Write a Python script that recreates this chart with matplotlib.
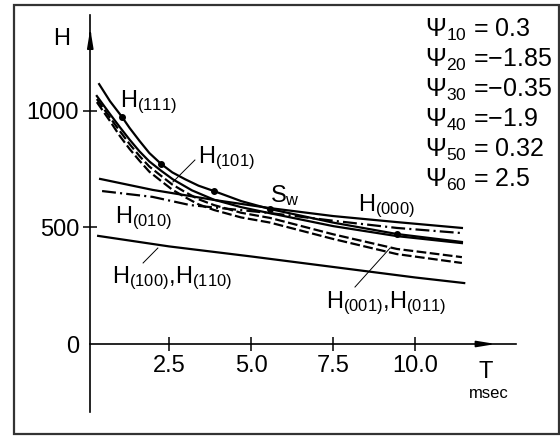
import matplotlib
matplotlib.use("Agg")
import matplotlib.pyplot as plt
from matplotlib.patches import Rectangle

plt.rcParams['font.family'] = ['Liberation Sans', 'DejaVu Sans']
plt.rcParams['mathtext.fontset'] = 'custom'
plt.rcParams['mathtext.rm'] = 'Liberation Sans'
plt.rcParams['mathtext.it'] = 'Liberation Sans'
plt.rcParams['mathtext.bf'] = 'Liberation Sans'
plt.rcParams['lines.scale_dashes'] = False

# curves (T in msec, H)
t_111 = [0.37, 0.7, 1.07, 1.3, 1.6, 1.9, 2.26, 2.6, 3.0, 3.4, 3.87, 4.7, 5.58, 7.5, 9.45, 11.43]
h_111 = [1113, 1040, 972, 925, 870, 818, 771, 735, 705, 678, 655, 612, 578, 520, 471, 437]

t_101 = [0.3, 0.7, 1.0, 1.3, 1.6, 1.9, 2.26, 2.62, 3.2, 3.87, 4.7, 5.58, 7.5, 9.45, 11.43]
h_101 = [1062, 985, 929, 875, 825, 782, 742, 705, 658, 618, 586, 560, 505, 462, 432]

t_001 = [0.3, 0.7, 1.0, 1.3, 1.6, 1.9, 2.26, 2.6, 3.0, 3.4, 3.87, 4.7, 5.58, 7.5, 9.45, 11.43]
h_001 = [1049, 970, 912, 856, 805, 760, 720, 683, 650, 620, 595, 562, 540, 470, 407, 372]
h_011 = [1036, 955, 891, 835, 785, 738, 698, 661, 628, 598, 574, 542, 520, 450, 385, 347]

t_000 = [0.4, 2.0, 3.87, 5.58, 7.5, 9.45, 11.43]
h_000 = [707, 660, 617, 582, 548, 522, 497]

t_010 = [0.46, 2.0, 3.14, 5.58, 7.5, 9.45, 11.43]
h_010 = [655, 630, 595, 561, 528, 497, 475]

t_100 = [0.34, 2.5, 5.0, 7.5, 10.0, 11.5]
h_100 = [463, 418, 375, 330, 285, 261]

t_dots = [1.07, 2.26, 3.87, 5.58, 9.45]
h_dots = [972, 771, 655, 578, 471]

psi_names = ['10', '20', '30', '40', '50', '60']
psi_values = [0.3, -1.85, -0.35, -1.9, 0.32, 2.5]

x_ticks = [2.5, 5.0, 7.5, 10.0]
y_ticks = [0, 500, 1000]

fig = plt.figure(figsize=(5.6, 4.36), dpi=100)
ax = fig.add_axes([0, 0, 1, 1])
ax.patch.set_alpha(0)

# pixel mapping of the original: x = 87 + 32.8*T, y = 344 - 0.2335*H
ax.set_xlim(-87 / 32.8, (560 - 87) / 32.8)
ax.set_ylim((344 - 436) / 0.2335, 344 / 0.2335)

for s in ['top', 'right']:
    ax.spines[s].set_visible(False)
ax.spines['left'].set_position(('data', 0.1))
ax.spines['bottom'].set_position(('data', 0))
ax.spines['left'].set_bounds(-291, 1409)
ax.spines['bottom'].set_bounds(0.1, 13.08)
for s in ['left', 'bottom']:
    ax.spines[s].set_linewidth(1.2)

ax.set_xticks(x_ticks)
ax.set_xticklabels(['%.1f' % v for v in x_ticks])
ax.set_yticks(y_ticks)
ax.set_yticklabels([str(v) for v in y_ticks])
ax.tick_params(direction='inout', length=10, width=1.1, labelsize=17)
ax.tick_params(axis='x', pad=3)
ax.tick_params(axis='y', pad=3)
ax.yaxis.get_major_ticks()[0].tick1line.set_visible(False)

# arrow heads
ax.annotate('', xy=(12.55, 0), xytext=(11.85, 0),
            arrowprops=dict(arrowstyle='-|>,head_length=1.1,head_width=0.18', color='black', lw=1.2))
ax.annotate('', xy=(0.1, 1362), xytext=(0.1, 1310),
            arrowprops=dict(arrowstyle='-|>,head_length=1.1,head_width=0.18', color='black', lw=1.2))

lw = 1.6
ax.plot(t_100, h_100, color='black', lw=lw)
ax.plot(t_000, h_000, color='black', lw=lw)
ax.plot(t_010, h_010, color='black', lw=lw, dashes=(10, 3, 1.5, 3))
ax.plot(t_001, h_001, color='black', lw=lw, dashes=(7, 2.5))
ax.plot(t_001, h_011, color='black', lw=lw, dashes=(7, 2.5))
ax.plot(t_101, h_101, color='black', lw=lw)
ax.plot(t_111, h_111, color='black', lw=lw)
ax.plot(t_dots, h_dots, 'o', color='black', ms=4)

fs = 17
ax.text(1.0, 1015, 'H$_{(111)}$', fontsize=fs, va='baseline')
ax.text(3.38, 775, 'H$_{(101)}$', fontsize=fs, va='baseline')
ax.text(5.58, 608, 'S$_{w}$', fontsize=fs, va='baseline')
ax.text(8.26, 570, 'H$_{(000)}$', fontsize=fs, va='baseline')
ax.text(0.85, 518, 'H$_{(010)}$', fontsize=fs, va='baseline')
ax.text(0.76, 261, 'H$_{(100)}$,H$_{(110)}$', fontsize=fs, va='baseline')
ax.text(7.29, 154, 'H$_{(001)}$,H$_{(011)}$', fontsize=fs, va='baseline')

ax.plot([3.29, 2.62], [788, 694], color='black', lw=0.7)
ax.plot([1.71, 2.16], [347, 411], color='black', lw=0.7)
ax.plot([8.17, 9.24], [244, 411], color='black', lw=0.7)

ax.text(-1.04, 1280, 'H', fontsize=17, va='baseline')
ax.text(12.15, -146, 'T', fontsize=17, va='baseline', ha='center')
ax.text(12.25, -231, 'msec', fontsize=12, va='baseline', ha='center')

for i, (name, val) in enumerate(zip(psi_names, psi_values)):
    if val < 0:
        txt = '\u2212' + str(-val)
    else:
        txt = ' ' + str(val)
    ax.text((425 - 87) / 32.8, (344 - 37 - 30 * i) / 0.2335,
            'Ψ$_{%s}$ =%s' % (name, txt), fontsize=18, va='baseline')

fig.patches.append(Rectangle((14 / 560, 2 / 436), 545 / 560, 429 / 436,
                             transform=fig.transFigure, fill=False,
                             edgecolor='#333333', lw=1.6))

fig.savefig('out.png', dpi=100)
